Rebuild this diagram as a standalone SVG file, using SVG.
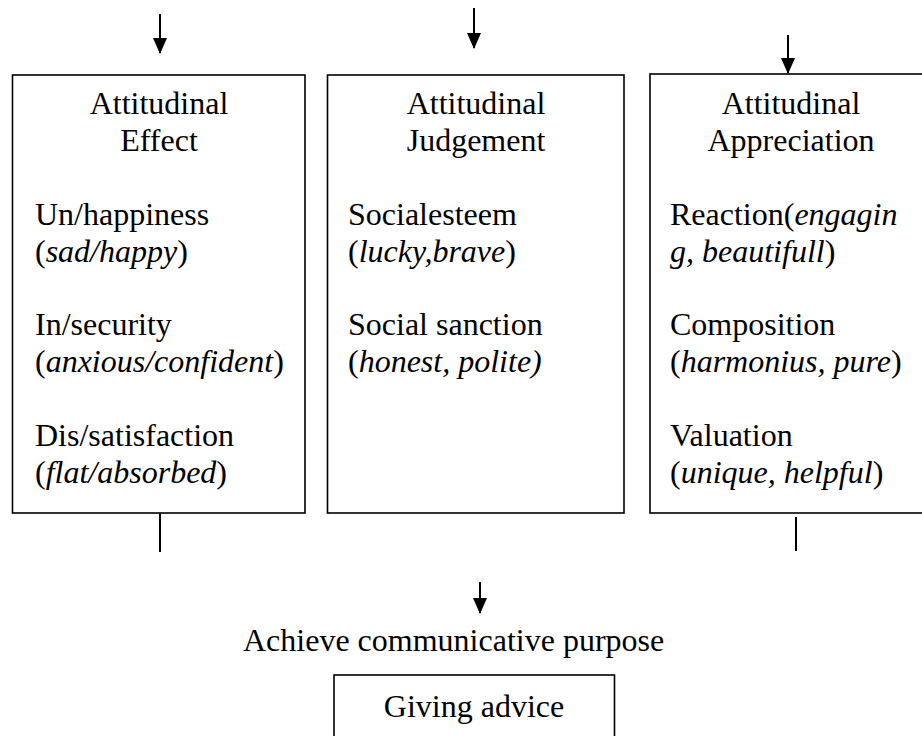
<svg xmlns="http://www.w3.org/2000/svg" width="922" height="736" viewBox="0 0 922 736">
<style>
text{font-family:'Liberation Serif','Times New Roman',Times,'DejaVu Serif',serif;font-size:32px;fill:#000}
.c{text-anchor:middle}
.i{font-style:italic}
.box{fill:#fff;stroke:#000;stroke-width:1.6}
.ln{stroke:#000;stroke-width:2;fill:none}
</style>
<defs>
<marker id="ah" markerWidth="8" markerHeight="7" refX="7.5" refY="3.5" orient="auto" markerUnits="strokeWidth">
<path d="M0,0 L8,3.5 L0,7 Z" fill="#000"/>
</marker>
</defs>
<rect width="922" height="736" fill="#fff"/>
<g id="connectors">
<line class="ln" x1="160" y1="14" x2="160" y2="53" marker-end="url(#ah)"/>
<line class="ln" x1="474" y1="8" x2="474" y2="48" marker-end="url(#ah)"/>
<line class="ln" x1="788" y1="35" x2="788" y2="73" marker-end="url(#ah)"/>
<line class="ln" x1="160" y1="513" x2="160" y2="552"/>
<line class="ln" x1="796" y1="517" x2="796" y2="551"/>
<line class="ln" x1="480" y1="582" x2="480" y2="613" marker-end="url(#ah)"/>
</g>
<g id="node-effect">
<rect class="box" x="12.5" y="75" width="292.5" height="438"/>
<text class="c" x="159" y="114">Attitudinal</text>
<text class="c" x="159" y="151">Effect</text>
<text x="35" y="225">Un/happiness</text>
<text x="35" y="262">(<tspan class="i">sad/happy</tspan>)</text>
<text x="35" y="335">In/security</text>
<text x="35" y="372">(<tspan class="i">anxious/confident</tspan>)</text>
<text x="35" y="446">Dis/satisfaction</text>
<text x="35" y="483">(<tspan class="i">flat/absorbed</tspan>)</text>
</g>
<g id="node-judgement">
<rect class="box" x="327.5" y="75" width="296.5" height="438"/>
<text class="c" x="476" y="114">Attitudinal</text>
<text class="c" x="476" y="151">Judgement</text>
<text x="348" y="225">Socialesteem</text>
<text x="348" y="262">(<tspan class="i">lucky,brave</tspan>)</text>
<text x="348" y="335">Social sanction</text>
<text x="348" y="372">(<tspan class="i">honest, polite)</tspan></text>
</g>
<g id="node-appreciation">
<rect class="box" x="650" y="74" width="290" height="439"/>
<text class="c" x="791" y="114">Attitudinal</text>
<text class="c" x="791" y="151">Appreciation</text>
<text x="670" y="225">Reaction(<tspan class="i">engagin</tspan></text>
<text x="670" y="262"><tspan class="i">g, beautifull</tspan>)</text>
<text x="670" y="335">Composition</text>
<text x="670" y="372">(<tspan class="i">harmonius, pure</tspan>)</text>
<text x="670" y="446">Valuation</text>
<text x="670" y="483">(<tspan class="i">unique, helpful</tspan>)</text>
</g>
<g id="node-purpose">
<text x="243" y="651">Achieve communicative purpose</text>
</g>
<g id="node-advice">
<rect class="box" x="334" y="675" width="280.5" height="80"/>
<text class="c" x="474" y="717">Giving advice</text>
</g>
</svg>
